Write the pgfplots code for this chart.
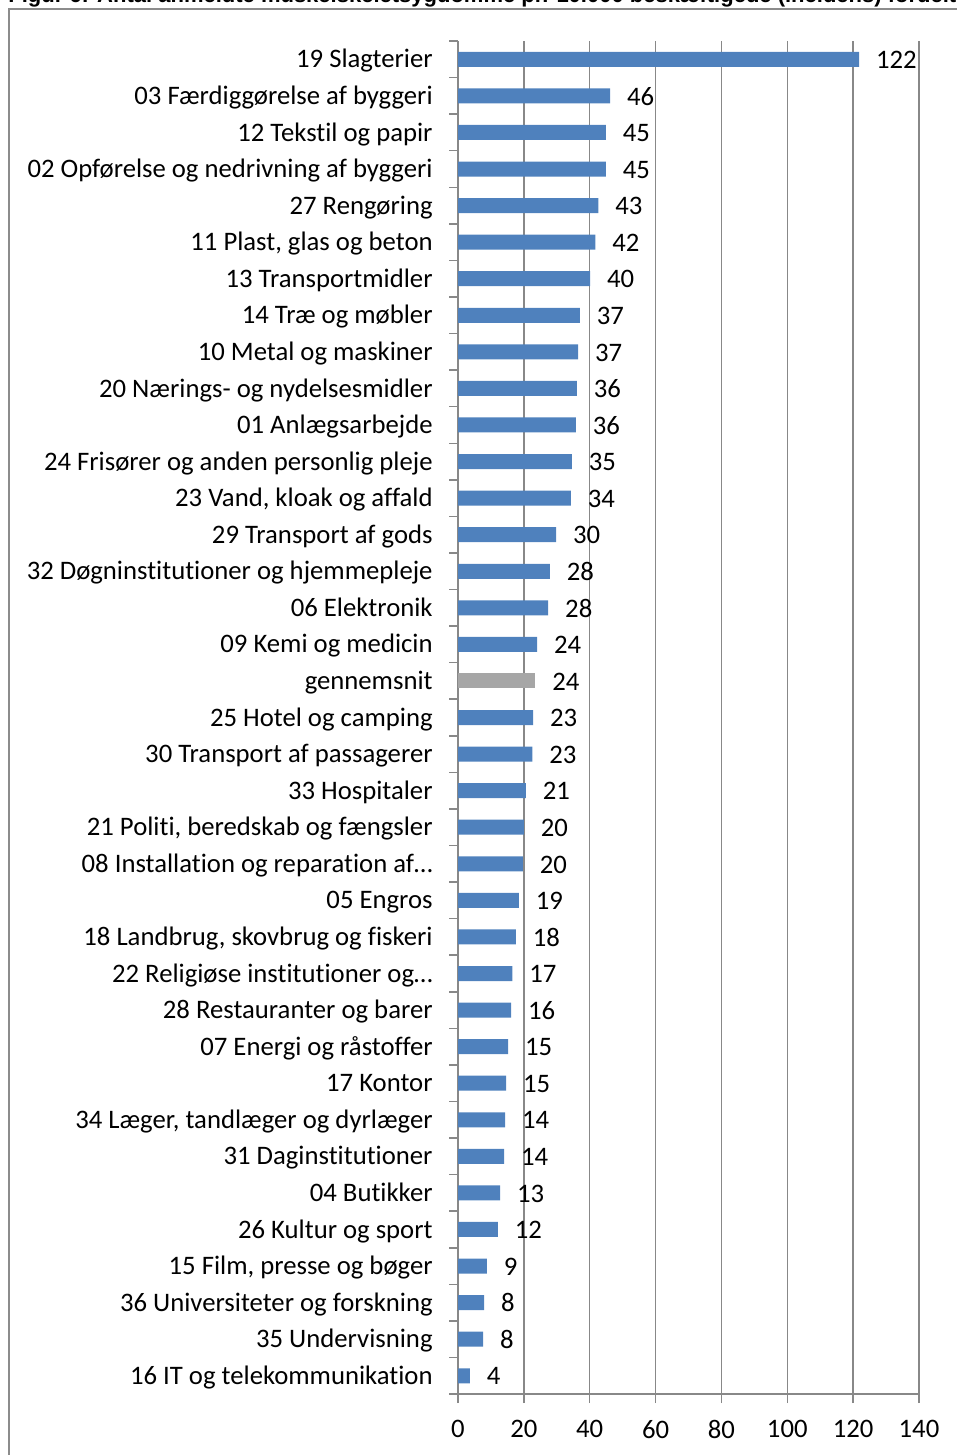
\documentclass[border=0pt]{standalone}
\usepackage{fontspec}
\setmainfont{Carlito}[Ligatures={TeX,NoCommon}]
\newfontfamily\titlefont{Liberation Sans}
\usepackage{pgfplots}
\usepackage{pgfplotstable}
\pgfplotsset{compat=1.18}
\definecolor{barblue}{HTML}{4F81BD}
\definecolor{bargray}{HTML}{A6A6A6}
\definecolor{gridgray}{HTML}{888888}
\definecolor{framegray}{HTML}{8C8C8C}

\pgfplotstableread[col sep=semicolon]{
idx;val;lab;name
0;121.8;122;19 Slagterier
1;46.2;46;03 Færdiggørelse af byggeri
2;44.9;45;12 Tekstil og papir
3;44.9;45;02 Opførelse og nedrivning af byggeri
4;42.6;43;27 Rengøring
5;41.7;42;11 Plast, glas og beton
6;40.1;40;13 Transportmidler
7;37.0;37;14 Træ og møbler
8;36.5;37;10 Metal og maskiner
9;36.1;36;20 Nærings- og nydelsesmidler
10;35.8;36;01 Anlægsarbejde
11;34.6;35;24 Frisører og anden personlig pleje
12;34.3;34;23 Vand, kloak og affald
13;29.8;30;29 Transport af gods
14;27.9;28;32 Døgninstitutioner og hjemmepleje
15;27.4;28;06 Elektronik
16;24.0;24;09 Kemi og medicin
17;23.5;24;gennemsnit
18;22.8;23;25 Hotel og camping
19;22.6;23;30 Transport af passagerer
20;20.6;21;33 Hospitaler
21;20.0;20;21 Politi, beredskab og fængsler
22;19.7;20;08 Installation og reparation af…
23;18.5;19;05 Engros
24;17.6;18;18 Landbrug, skovbrug og fiskeri
25;16.5;17;22 Religiøse institutioner og…
26;16.1;16;28 Restauranter og barer
27;15.2;15;07 Energi og råstoffer
28;14.6;15;17 Kontor
29;14.3;14;34 Læger, tandlæger og dyrlæger
30;14.0;14;31 Daginstitutioner
31;12.8;13;04 Butikker
32;12.1;12;26 Kultur og sport
33;8.8;9;15 Film, presse og bøger
34;7.9;8;36 Universiteter og forskning
35;7.6;8;35 Undervisning
36;3.6;4;16 IT og telekommunikation
}\datatable

\begin{document}
\begin{tikzpicture}
\useasboundingbox (0,0) rectangle (478.5pt,-727.5pt);
\node[anchor=base west, inner sep=0pt, font=\titlefont\bfseries\fontsize{11}{13}\selectfont] at (4pt,-1.5pt) {Figur 6: Antal anmeldte muskelskeletsygdomme pr. 10.000 beskæftigede (incidens) fordelt på branchegrupper};
\draw[framegray, line width=1pt] (4.5pt,-800pt) -- (4.5pt,-4.5pt) -- (600pt,-4.5pt);
\begin{axis}[
  at={(229pt,-697pt)}, anchor=south west,
  scale only axis, width=230.5pt, height=676.5pt,
  xbar, bar width=7.5pt, bar shift=0pt,
  xmin=0, xmax=140, ymin=-0.5, ymax=36.5, y dir=reverse,
  axis x line*=bottom, axis y line*=left,
  axis line style={gridgray, line width=0.75pt, -},
  xtick={0,20,...,140},
  xmajorgrids, major grid style={gridgray, line width=0.75pt},
  ytick={0,...,36},
  yticklabels from table={\datatable}{name},
  minor ytick={-0.5,0.5,...,36.5},
  tick align=outside,
  major tick length=4.5pt, minor tick length=4.5pt,
  major x tick style={gridgray, line width=0.75pt},
  major y tick style={draw=none},
  minor y tick style={draw=gridgray, line width=0.75pt},
  /pgf/number format/assume math mode=true,
  tick label style={font=\fontsize{13.35}{15}\selectfont},
  yticklabel style={anchor=base east, inner sep=0pt, xshift=-8pt, yshift=-4.3pt},
  xticklabel style={anchor=north, inner sep=0pt, yshift=-8.5pt},
  nodes near coords,
  point meta=explicit symbolic,
  every node near coord/.append style={anchor=base west, inner sep=0pt, xshift=8.3pt, yshift=-4.6pt, font=\fontsize{13.35}{15}\selectfont, text=black},
  clip=false,
]
\addplot[fill=barblue, draw=none, skip coords between index={17}{18}] table[x=val, y=idx, meta=lab, col sep=semicolon] {\datatable};
\addplot[fill=bargray, draw=none, skip coords between index={0}{17}, skip coords between index={18}{37}] table[x=val, y=idx, meta=lab, col sep=semicolon] {\datatable};
\end{axis}
\end{tikzpicture}
\end{document}
